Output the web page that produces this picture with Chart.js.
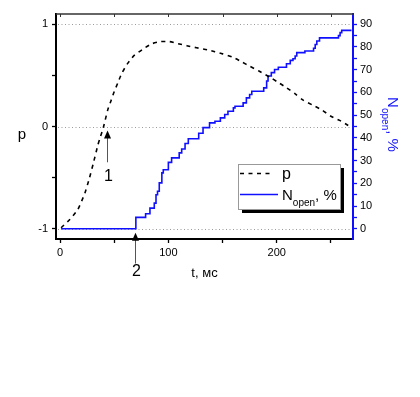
<!DOCTYPE html>
<html>
<head>
<meta charset="utf-8">
<script src="https://cdn.jsdelivr.net/npm/chart.js@4.4.1/dist/chart.umd.min.js"></script>
<style>
  body { margin: 0; background: #fff; }
  canvas { display: block; }
</style>
</head>
<body>
<canvas id="chart" width="420" height="397"></canvas>
<script>
// Data
// p(t), dashed black curve, left axis
const pTime = [1, 9, 16.5, 23, 27, 30.5, 35, 37, 40, 44, 47, 50, 53.5, 57, 62, 68, 77, 85, 93, 101,
  109, 117, 126, 136, 143, 150, 159, 168, 175, 184, 194, 200, 209, 217, 224, 233, 242, 250, 258, 266];
const pValues = [-0.99, -0.91, -0.81, -0.65, -0.51, -0.37, -0.18, -0.11, -0.01, 0.16, 0.25, 0.34, 0.43, 0.52, 0.61, 0.69, 0.76, 0.81, 0.83, 0.83,
  0.81, 0.79, 0.77, 0.75, 0.73, 0.71, 0.68, 0.63, 0.59, 0.54, 0.48, 0.44, 0.38, 0.32, 0.26, 0.21, 0.16, 0.10, 0.06, 0.01];

// N_open(t), blue step curve, right axis (time of each step, new level)
const nTime = [1, 70, 79, 83, 87, 88.6, 90, 91.6, 94, 95.3, 100, 103, 110, 112.3, 115.4, 118.4, 128, 132, 138, 143,
  148, 152, 155, 160, 161.5, 169, 172, 175, 177, 188, 190.7, 192, 195, 198, 201.5, 209, 212.5, 215, 217, 218.5,
  226, 234, 235.5, 237, 239.5, 257, 258.5, 260, 269];
const nValues = [0, 5, 6.6, 9.1, 11.3, 15, 16.5, 20.2, 24.6, 26, 29.2, 31.2, 33.4, 35.1, 37.5, 39.6, 42, 44.5, 46.6, 47.3,
  48.8, 50.3, 51.7, 53.2, 53.9, 55.4, 57.6, 59.1, 60.5, 62, 65, 67.2, 68.7, 70.1, 71.1, 72.6, 74.1, 74.8, 76, 77.5,
  78.2, 79.4, 81.1, 82.6, 84, 85, 86.3, 87.3, 87.3];

// ticks
const xTicks = [0, 50, 100, 150, 200, 250];
const xLabels = [0, 100, 200];
const pTicks = [-1, -0.5, 0, 0.5, 1];
const pLabels = [-1, 0, 1];
const pGrid = [-1, 0, 1];
const nTicks = [0, 5, 10, 15, 20, 25, 30, 35, 40, 45, 50, 55, 60, 65, 70, 75, 80, 85, 90];
const nLabels = [0, 10, 20, 30, 40, 50, 60, 70, 80, 90];

// arrows: t, tip, tail and label position on the p axis
const markers = [
  { label: '1', t: 43, tip: -0.04, tail: -0.35, text: -0.485 },
  { label: '2', t: 69.2, tip: -1.04, tail: -1.34, text: -1.42 }
];

const FONT = 'Arial, "Liberation Sans", sans-serif';
const BLUE = '#1010ff';

function toPoints(xs, ys) {
  return xs.map((x, i) => ({ x: x, y: ys[i] }));
}

// draws text with a subscript part, left to right from x,y (baseline)
function drawParts(ctx, parts, x, y) {
  parts.forEach(p => {
    ctx.font = p.size + 'px ' + FONT;
    ctx.fillText(p.t, x, y + (p.dy || 0));
    x += ctx.measureText(p.t).width;
  });
}
function partsWidth(ctx, parts) {
  let w = 0;
  parts.forEach(p => { ctx.font = p.size + 'px ' + FONT; w += ctx.measureText(p.t).width; });
  return w;
}

const decor = {
  id: 'decor',
  beforeDraw(chart) {
    const ctx = chart.ctx;
    ctx.save();
    ctx.fillStyle = '#fff';
    ctx.fillRect(0, 0, chart.width, chart.height);
    ctx.restore();
  },
  beforeDatasetsDraw(chart) {
    const { ctx, chartArea: a, scales } = chart;
    ctx.save();
    ctx.strokeStyle = '#9a9a9a';
    ctx.lineWidth = 1;
    ctx.setLineDash([1, 2.5]);
    pGrid.forEach(v => {
      const y = Math.round(scales.y.getPixelForValue(v)) + 0.5;
      ctx.beginPath();
      ctx.moveTo(a.left + 2, y);
      ctx.lineTo(a.right - 2, y);
      ctx.stroke();
    });
    ctx.restore();
  },
  afterDraw(chart) {
    const { ctx, chartArea: a, scales } = chart;
    ctx.save();

    // top frame with inward ticks
    ctx.strokeStyle = '#333';
    ctx.lineWidth = 1.5;
    ctx.beginPath();
    ctx.moveTo(a.left, a.top);
    ctx.lineTo(a.right, a.top);
    ctx.stroke();
    ctx.lineWidth = 1;
    xTicks.forEach(v => {
      const x = Math.round(scales.x.getPixelForValue(v)) + 0.5;
      ctx.beginPath();
      ctx.moveTo(x, a.top);
      ctx.lineTo(x, a.top + 3);
      ctx.stroke();
    });

    // axis titles
    ctx.fillStyle = '#000';
    ctx.textAlign = 'center';
    ctx.textBaseline = 'middle';
    ctx.font = '15px ' + FONT;
    ctx.fillText('p', a.left - 34, (a.top + a.bottom) / 2 + 8);
    ctx.font = '13px ' + FONT;
    ctx.fillText('t, мс', (a.left + a.right) / 2, a.bottom + 34);

    // right title, rotated
    const rParts = [{ t: 'N', size: 15 }, { t: 'open', size: 10, dy: 6 }, { t: ', %', size: 15 }];
    const rw = partsWidth(ctx, rParts);
    ctx.save();
    ctx.translate(a.right + 35, (a.top + a.bottom) / 2 - rw / 2 - 2);
    ctx.rotate(Math.PI / 2);
    ctx.fillStyle = BLUE;
    ctx.textAlign = 'left';
    ctx.textBaseline = 'alphabetic';
    drawParts(ctx, rParts, 0, 0);
    ctx.restore();

    // arrows
    markers.forEach(m => {
      const x = Math.round(scales.x.getPixelForValue(m.t)) + 0.5;
      const yTip = scales.y.getPixelForValue(m.tip);
      const yTail = scales.y.getPixelForValue(m.tail);
      ctx.strokeStyle = '#555';
      ctx.lineWidth = 1;
      ctx.setLineDash([]);
      ctx.beginPath();
      ctx.moveTo(x, yTip + 5);
      ctx.lineTo(x, yTail);
      ctx.stroke();
      ctx.fillStyle = '#000';
      ctx.beginPath();
      ctx.moveTo(x, yTip);
      ctx.lineTo(x - 3.5, yTip + 8);
      ctx.lineTo(x + 3.5, yTip + 8);
      ctx.closePath();
      ctx.fill();
      ctx.font = '16px ' + FONT;
      ctx.textAlign = 'center';
      ctx.textBaseline = 'middle';
      ctx.fillText(m.label, x + 1, scales.y.getPixelForValue(m.text));
    });

    // legend box with shadow
    const bx = a.right - 115, by = a.bottom - 75, bw = 102, bh = 45;
    ctx.fillStyle = '#000';
    ctx.fillRect(bx + 4, by + 4, bw, bh);
    ctx.fillStyle = '#fff';
    ctx.fillRect(bx, by, bw, bh);
    ctx.strokeStyle = '#999';
    ctx.lineWidth = 1;
    ctx.strokeRect(bx + 0.5, by + 0.5, bw, bh);

    const ds = chart.data.datasets;
    // p entry
    ctx.strokeStyle = ds[0].borderColor;
    ctx.lineWidth = ds[0].borderWidth;
    ctx.setLineDash(ds[0].borderDash);
    ctx.beginPath();
    ctx.moveTo(bx + 2, by + 9.5);
    ctx.lineTo(bx + 34, by + 9.5);
    ctx.stroke();
    ctx.setLineDash([]);
    ctx.fillStyle = '#000';
    ctx.textAlign = 'left';
    ctx.textBaseline = 'alphabetic';
    ctx.font = '16px ' + FONT;
    ctx.fillText(ds[0].label, bx + 44, by + 15);

    // N entry
    ctx.strokeStyle = ds[1].borderColor;
    ctx.lineWidth = ds[1].borderWidth;
    ctx.beginPath();
    ctx.moveTo(bx + 2, by + 30.5);
    ctx.lineTo(bx + 40, by + 30.5);
    ctx.stroke();
    drawParts(ctx, [{ t: 'N', size: 15 }, { t: 'open', size: 10, dy: 6 }, { t: ', %', size: 15 }], bx + 44, by + 36);

    ctx.restore();
  }
};

new Chart(document.getElementById('chart'), {
  type: 'line',
  data: {
    datasets: [
      {
        label: 'p',
        data: toPoints(pTime, pValues),
        yAxisID: 'y',
        borderColor: '#000',
        borderWidth: 1.6,
        borderDash: [4, 4.5],
        pointRadius: 0,
        tension: 0.2,
        fill: false
      },
      {
        label: 'N_open, %',
        data: toPoints(nTime, nValues),
        yAxisID: 'y2',
        borderColor: BLUE,
        borderWidth: 1.6,
        stepped: true,
        pointRadius: 0,
        fill: false
      }
    ]
  },
  options: {
    responsive: false,
    devicePixelRatio: 1,
    animation: false,
    layout: { padding: { top: 14, left: 0, right: 0, bottom: 0 } },
    plugins: { legend: { display: false }, tooltip: { enabled: false } },
    scales: {
      x: {
        type: 'linear',
        position: 'bottom',
        min: -3.7,
        max: 270.4,
        afterFit: s => { s.height = 158; },
        afterBuildTicks: s => { s.ticks = xTicks.map(v => ({ value: v })); },
        ticks: {
          callback: v => xLabels.includes(v) ? String(v) : '',
          font: { size: 11, family: FONT },
          color: '#000',
          padding: 3,
          maxRotation: 0,
          autoSkip: false
        },
        grid: { drawOnChartArea: false, tickLength: 4, tickColor: '#000', tickWidth: 1.3 },
        border: { color: '#000', width: 2 }
      },
      y: {
        type: 'linear',
        position: 'left',
        min: -1.1,
        max: 1.1,
        afterFit: s => { s.width = 56; },
        afterBuildTicks: s => { s.ticks = pTicks.map(v => ({ value: v })); },
        ticks: {
          callback: v => pLabels.includes(v) ? String(v) : '',
          font: { size: 11, family: FONT },
          color: '#000',
          padding: 4,
          autoSkip: false
        },
        grid: { drawOnChartArea: false, tickLength: 4, tickColor: '#000', tickWidth: 1.3 },
        border: { color: '#000', width: 2 }
      },
      y2: {
        type: 'linear',
        position: 'right',
        min: -4.5,
        max: 94.5,
        afterFit: s => { s.width = 67; },
        afterBuildTicks: s => { s.ticks = nTicks.map(v => ({ value: v })); },
        ticks: {
          callback: v => nLabels.includes(v) ? String(v) : '',
          font: { size: 11, family: FONT },
          color: '#000',
          padding: 3,
          autoSkip: false
        },
        grid: { drawOnChartArea: false, tickLength: 4, tickColor: BLUE, tickWidth: 1.3 },
        border: { color: BLUE, width: 2 }
      }
    }
  },
  plugins: [decor]
});
</script>
</body>
</html>
